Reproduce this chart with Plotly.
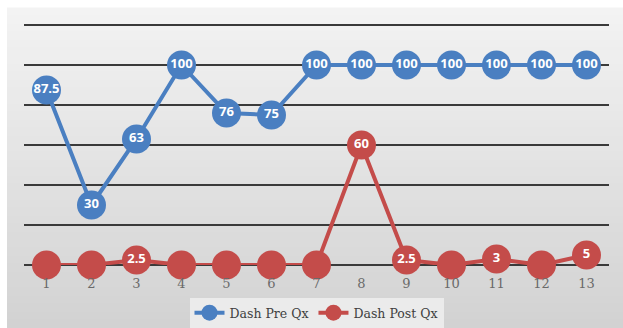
import plotly.graph_objects as go

categories = list(range(1, 14))
pre_values = [87.5, 30, 63, 100, 76, 75, 100, 100, 100, 100, 100, 100, 100]
post_values = [0, 0, 2.5, 0, 0, 0, 0, 60, 2.5, 0, 3, 0, 5]
series_names = ["Dash Pre Qx", "Dash Post Qx"]
y_ticks = [0, 20, 40, 60, 80, 100, 120]

BLUE = "#4a7fc1"
RED = "#c44c4a"

W, H = 623, 328
L, R, T, B = 24, 14, 23, 63
pw, ph = W - L - R, H - T - B


def px2paper_x(px):
    return (px - L) / pw


def px2paper_y(py):
    return (H - B - py) / ph


def label(v):
    if v == 0:
        return ""
    return f"{v:g}"


fig = go.Figure()
for name, vals, col in [(series_names[0], pre_values, BLUE), (series_names[1], post_values, RED)]:
    fig.add_trace(go.Scatter(
        x=categories, y=vals, name=name, mode="lines+markers+text",
        line=dict(color=col, width=4),
        marker=dict(color=col, size=29, line=dict(width=0)),
        text=[label(v) for v in vals], textposition="middle center",
        textfont=dict(color="white", size=13, family="Open Sans", weight="bold"),
        cliponaxis=False,
    ))

# gradient background
shapes = []
x0, x1 = px2paper_x(7), px2paper_x(W)
top, bot = 8, H
n = 40
c_top, c_bot = 243, 210
for i in range(n):
    ya = top + (bot - top) * i / n
    yb = top + (bot - top) * (i + 1) / n
    c = round(c_top + (c_bot - c_top) * (i + 0.5) / n)
    shapes.append(dict(type="rect", xref="paper", yref="paper", x0=x0, x1=x1,
                       y0=px2paper_y(yb), y1=px2paper_y(ya) + 0.002,
                       fillcolor=f"rgb({c},{c},{c})", line=dict(width=0), layer="below"))

fig.update_layout(
    width=W, height=H, margin=dict(l=L, r=R, t=T, b=B, autoexpand=False),
    paper_bgcolor="white", plot_bgcolor="rgba(0,0,0,0)",
    shapes=shapes, showlegend=True,
    legend=dict(orientation="h", x=0.5, xanchor="center", y=px2paper_y(328), yanchor="bottom",
                bgcolor="#ebebeb", font=dict(family="DejaVu Serif", size=12.5, color="#404040"),
                itemwidth=30, tracegroupgap=0),
    xaxis=dict(range=[0.5, 13.5], tickmode="array", tickvals=categories,
               ticktext=[str(c) for c in categories], showgrid=False, zeroline=False,
               showline=False, ticks="", ticklabelstandoff=9,
               tickfont=dict(family="DejaVu Serif", size=13, color="#6a6a6a")),
    yaxis=dict(range=[0, 121], tickvals=y_ticks, showticklabels=False, showgrid=True,
               gridcolor="#3a3a3a", gridwidth=2, zeroline=True, zerolinecolor="#3a3a3a",
               zerolinewidth=2, showline=False),
)

fig.write_html("out.html")
